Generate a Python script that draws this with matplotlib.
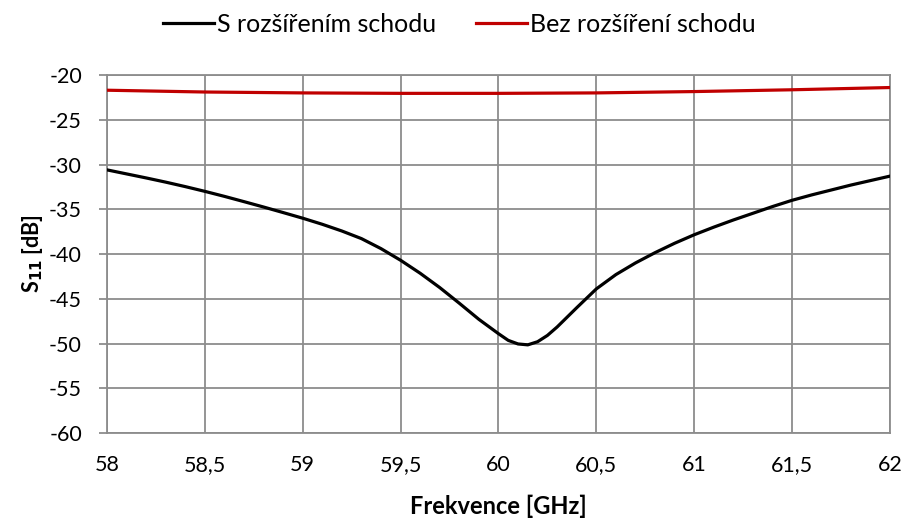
import matplotlib
matplotlib.use("Agg")
import matplotlib.pyplot as plt

freq_black = [58.0, 58.1, 58.2, 58.3, 58.4, 58.5, 58.6, 58.7, 58.8, 58.9,
              59.0, 59.1, 59.2, 59.3, 59.4, 59.5, 59.6, 59.7, 59.8, 59.9,
              60.0, 60.05, 60.1, 60.15, 60.2, 60.25, 60.3, 60.4, 60.5, 60.6, 60.7, 60.8, 60.9,
              61.0, 61.1, 61.2, 61.3, 61.4, 61.5, 61.6, 61.7, 61.8, 61.9, 62.0]
s11_black = [-30.6, -31.05, -31.5, -31.97, -32.47, -33.0, -33.56, -34.15, -34.75, -35.37,
             -36.0, -36.68, -37.43, -38.28, -39.4, -40.7, -42.15, -43.75, -45.5, -47.3,
             -48.9, -49.65, -50.05, -50.15, -49.8, -49.1, -48.15, -46.0, -43.9, -42.3, -41.0, -39.85, -38.8,
             -37.85, -37.0, -36.2, -35.45, -34.7, -34.0, -33.4, -32.85, -32.3, -31.8, -31.3]

freq_red = [58.0, 58.5, 59.0, 59.5, 60.0, 60.5, 61.0, 61.5, 62.0]
s11_red = [-21.7, -21.9, -22.0, -22.05, -22.05, -22.0, -21.85, -21.65, -21.4]

label_black = "S rozšířením schodu"
label_red = "Bez rozšíření schodu"
xticks = [58, 58.5, 59, 59.5, 60, 60.5, 61, 61.5, 62]
xticklabels = ["58", "58,5", "59", "59,5", "60", "60,5", "61", "61,5", "62"]
yticks = [-60, -55, -50, -45, -40, -35, -30, -25, -20]

plt.rcParams['font.family'] = ['Lato', 'DejaVu Sans']
plt.rcParams['axes.unicode_minus'] = False

fs = 15.5

fig = plt.figure(figsize=(9.09, 5.26), dpi=100)
ax = fig.add_axes([0.1177, 0.1768, 0.979 - 0.1177, 0.8574 - 0.1768])

grid_c = '#8c8c8c'
ax.plot(freq_black, s11_black, color='black', lw=2.3, label=label_black, zorder=3)
ax.plot(freq_red, s11_red, color='#C00000', lw=2.3, label=label_red, zorder=3)

ax.set_xlim(58, 62)
ax.set_ylim(-60, -20)
ax.set_xticks(xticks)
ax.set_xticklabels(xticklabels)
ax.set_yticks(yticks)
ax.grid(True, color=grid_c, lw=1.3)
ax.set_axisbelow(True)
for s in ax.spines.values():
    s.set_color(grid_c)
    s.set_linewidth(1.3)
ax.tick_params(axis='y', length=6, width=1.3, color=grid_c, pad=12, labelsize=fs)
ax.tick_params(axis='x', length=0, pad=16, labelsize=fs)

ax.set_xlabel("Frekvence [GHz]", fontsize=17, fontweight='bold', labelpad=14)
ax.set_ylabel("S$_{\\mathbf{11}}$ [dB]", fontsize=fs, fontweight='bold', labelpad=3)

fig.legend(loc='upper center', bbox_to_anchor=(0.505, 1.018), ncol=2, frameon=False,
           fontsize=18, handlelength=2.05, handletextpad=0.1, columnspacing=1.6)

fig.savefig("out.png", dpi=100, facecolor='white')
